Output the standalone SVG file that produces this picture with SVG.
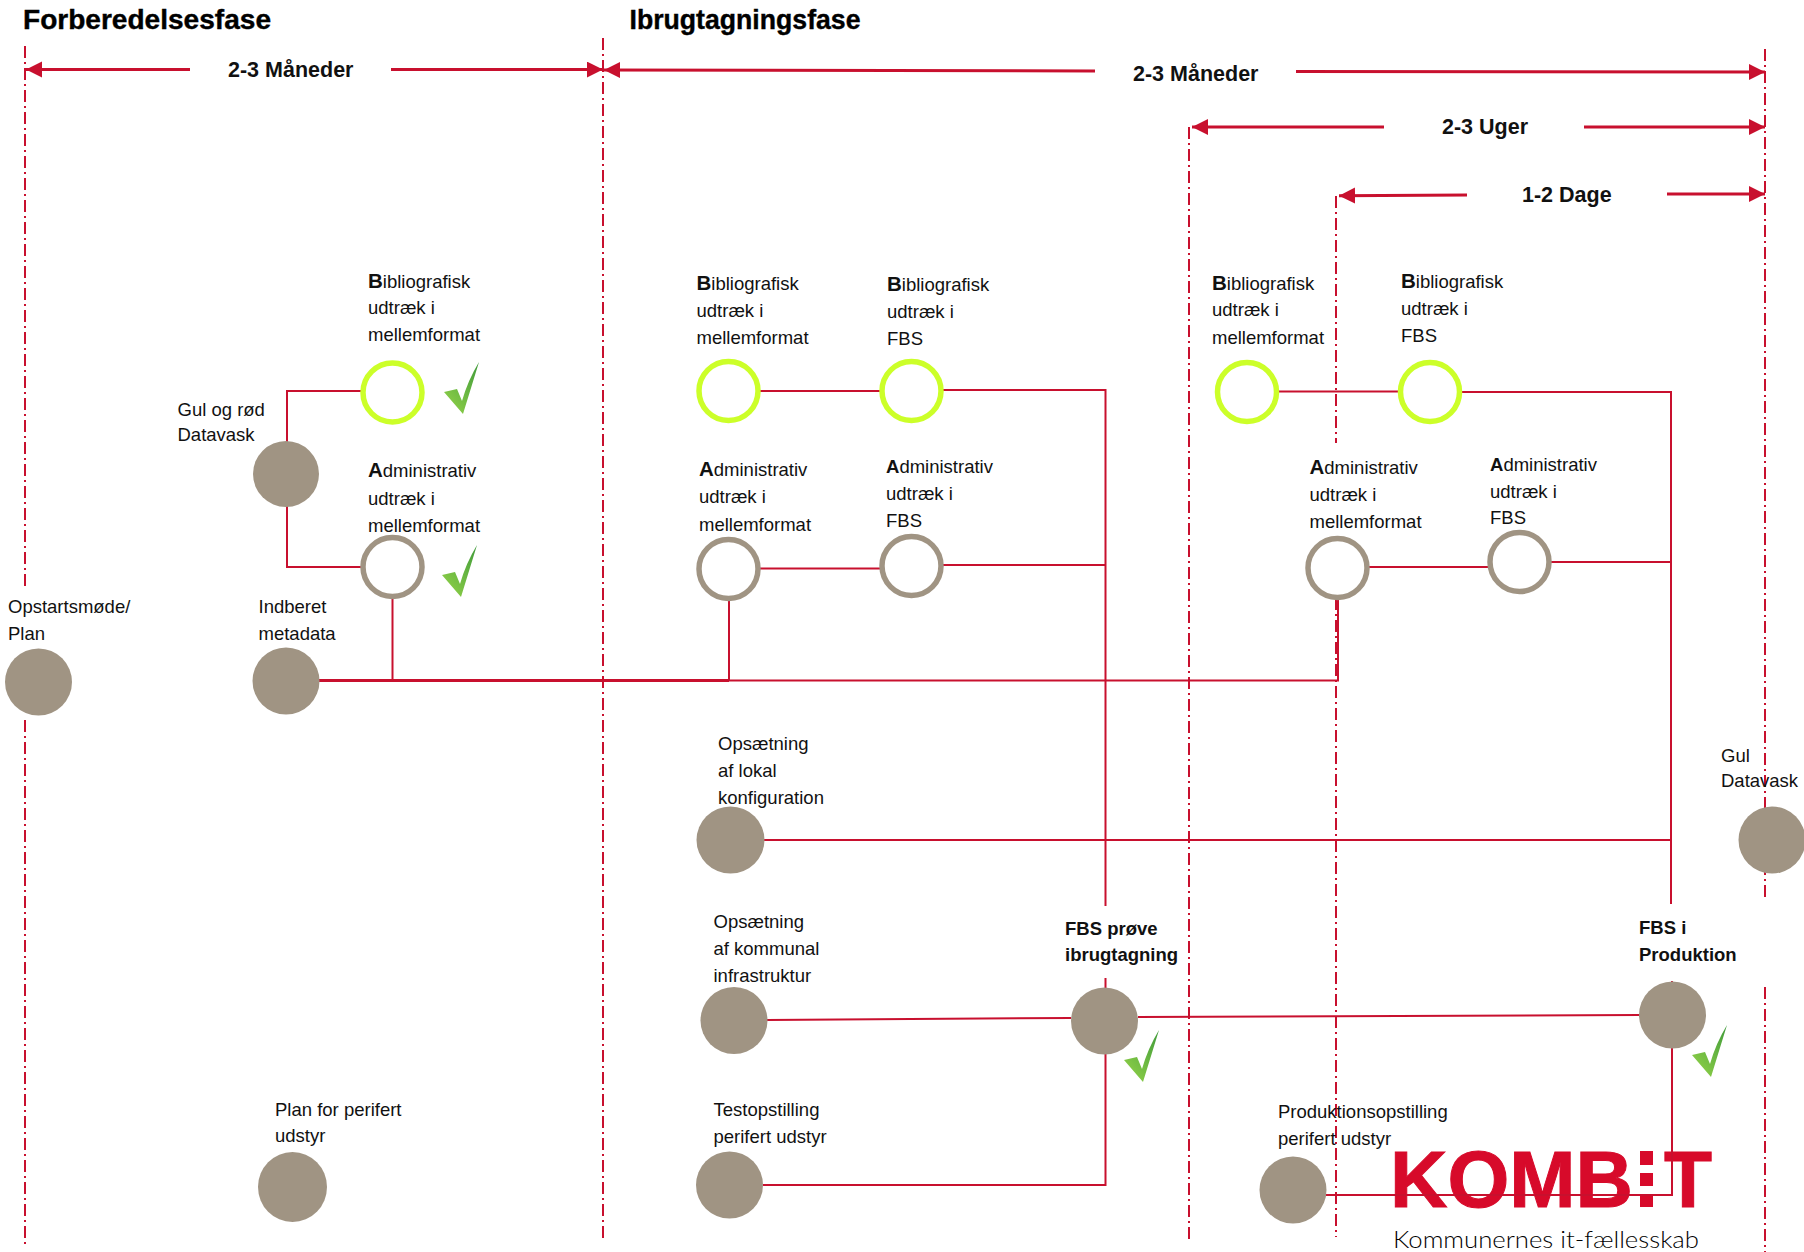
<svg xmlns="http://www.w3.org/2000/svg" xmlns:xlink="http://www.w3.org/1999/xlink" width="1804" height="1252" viewBox="0 0 1804 1252">
<style>
text{font-family:"Liberation Sans",Arial,sans-serif;font-size:18.500px;fill:#111}
.b{font-weight:700}
.lead{font-weight:700;font-size:20.500px}
.h{font-weight:700;font-size:21.500px}
.t{font-weight:700;font-size:27.500px;fill:#000;stroke:#000;stroke-width:.4}
.c{fill:none;stroke:#c8102e;stroke-width:2}
.a{fill:none;stroke:#c8102e;stroke-width:3}
.d{fill:none;stroke:#c8102e;stroke-width:2;stroke-dasharray:12 4 2 4}
.s{fill:#a09483}
.g{fill:#fff;stroke:#ccff29;stroke-width:5.500}
.r{fill:#fff;stroke:#a09483;stroke-width:5.500}
.k{fill:url(#cg)}
.l{fill:#d70a2a}
.lk{font-size:80px;font-weight:700;fill:#d70a2a;stroke:#d70a2a;stroke-width:1}
</style>
<defs>
<marker id="ah" markerUnits="userSpaceOnUse" markerWidth="18" markerHeight="18" refX="16" refY="8" orient="auto-start-reverse"><path d="M0 0L16 8L0 16Z" fill="#c8102e"/></marker>
<linearGradient id="cg" x1="1" y1="0" x2="0.2" y2="1"><stop offset="0" stop-color="#3f9a3a"/><stop offset="1" stop-color="#8fd048"/></linearGradient>
<path id="chk" class="k" d="M0 30L13 27L18 39Q24 18 35 0Q27 26 19 52Z"/>
</defs>
<g id="titles">
<text class="t" x="23" y="28.500" textLength="248" lengthAdjust="spacingAndGlyphs">Forberedelsesfase</text>
<text class="t" x="629.500" y="28.500" textLength="231" lengthAdjust="spacingAndGlyphs">Ibrugtagningsfase</text>
</g>
<g id="logo">
<text class="lk" x="1390" y="1207" textLength="243" lengthAdjust="spacingAndGlyphs">KOMB</text>
<rect class="l" x="1640" y="1151" width="13" height="14"/><rect class="l" x="1640" y="1173" width="13" height="13"/><rect class="l" x="1640" y="1195" width="13" height="12"/>
<text class="lk" x="1664" y="1207" textLength="48" lengthAdjust="spacingAndGlyphs">T</text>
<text x="1393" y="1248" textLength="306" lengthAdjust="spacingAndGlyphs" style="font-family:Lato,sans-serif;font-size:24px;font-weight:300;fill:#000">Kommunernes it-fællesskab</text>
</g>
<g id="connectors">
<path class="d" d="M25 46V590M25 720V1248"/>
<path class="d" d="M603 38V1240"/>
<path class="d" d="M1765 49V900M1765 987V1252"/>
<path class="d" d="M1189 127V1240"/>
<path class="d" d="M1336 196V443M1336 598V1237"/>
<path class="a" marker-start="url(#ah)" d="M26 69.600H190"/>
<path class="a" marker-end="url(#ah)" d="M391 69.600H603"/>
<path class="a" marker-start="url(#ah)" d="M604 70L1095 71"/>
<path class="a" marker-end="url(#ah)" d="M1296 71.500L1765 72"/>
<path class="a" marker-start="url(#ah)" d="M1192 127H1384"/>
<path class="a" marker-end="url(#ah)" d="M1584 127H1765"/>
<path class="a" marker-start="url(#ah)" d="M1339 195.700L1467 195"/>
<path class="a" marker-end="url(#ah)" d="M1667 194H1765"/>
<path class="c" d="M361 391H287V445M287 505V567H361"/>
<path class="c" d="M392.500 598V680"/>
<path class="c" style="stroke-width:3" d="M319 680.500H729"/>
<path class="c" d="M729 680.500H1338V598M729 600V680"/>
<path class="c" d="M760 391H880M943 390H1105.500V906M1105.500 978V990M760 568.500H880M943 565H1105.500M1105.500 1050V1185H763"/>
<path class="c" d="M1278 391.500H1399M1461 392H1671V904M1369 567H1488M1551 562H1671"/>
<path class="c" d="M764 840H1671"/>
<path class="c" d="M767 1020L1071 1018M1138 1017L1640 1015"/>
<path class="c" d="M1672 981V985M1672 1047V1195H1326"/>
</g>
<g id="n-forb-bib"><circle class="g" cx="392.500" cy="392.500" r="29.500"/><use href="#chk" x="444" y="362"/><text x="368" y="288"><tspan class="lead">B</tspan>ibliografisk</text><text x="368" y="314">udtræk i</text><text x="368" y="341">mellemformat</text></g>
<g id="n-forb-adm"><circle class="r" cx="392.500" cy="567" r="29.500"/><use href="#chk" x="442" y="545"/><text x="368" y="477"><tspan class="lead">A</tspan>dministrativ</text><text x="368" y="504.500">udtræk i</text><text x="368" y="531.500">mellemformat</text></g>
<g id="n-gul-roed"><circle class="s" cx="286" cy="474" r="33"/><text x="177.500" y="415.500">Gul og rød</text><text x="177.500" y="441">Datavask</text></g>
<g id="n-opstart"><circle class="s" cx="38.500" cy="682" r="33.500"/><text x="8" y="613">Opstartsmøde/</text><text x="8" y="639.500">Plan</text></g>
<g id="n-metadata"><circle class="s" cx="286" cy="681" r="33.500"/><text x="258.500" y="613">Indberet</text><text x="258.500" y="639.500">metadata</text></g>
<g id="n-ibr-bib1"><circle class="g" cx="728.500" cy="391" r="29.500"/><text x="696.500" y="290"><tspan class="lead">B</tspan>ibliografisk</text><text x="696.500" y="317">udtræk i</text><text x="696.500" y="344">mellemformat</text></g>
<g id="n-ibr-bib2"><circle class="g" cx="911.500" cy="391" r="29.500"/><text x="887" y="291"><tspan class="lead">B</tspan>ibliografisk</text><text x="887" y="318">udtræk i</text><text x="887" y="345">FBS</text></g>
<g id="n-ibr-adm1"><circle class="r" cx="728.500" cy="569" r="29.500"/><text x="699" y="475.500"><tspan class="lead">A</tspan>dministrativ</text><text x="699" y="503">udtræk i</text><text x="699" y="531">mellemformat</text></g>
<g id="n-ibr-adm2"><circle class="r" cx="911.500" cy="566" r="29.500"/><text x="886" y="473"><tspan class="b">A</tspan>dministrativ</text><text x="886" y="499.500">udtræk i</text><text x="886" y="527">FBS</text></g>
<g id="n-uger-bib1"><circle class="g" cx="1247" cy="392" r="29.500"/><text x="1212" y="290"><tspan class="lead">B</tspan>ibliografisk</text><text x="1212" y="316">udtræk i</text><text x="1212" y="344">mellemformat</text></g>
<g id="n-uger-bib2"><circle class="g" cx="1430" cy="392" r="29.500"/><text x="1401" y="288"><tspan class="lead">B</tspan>ibliografisk</text><text x="1401" y="314.500">udtræk i</text><text x="1401" y="342">FBS</text></g>
<g id="n-uger-adm1"><circle class="r" cx="1337.500" cy="568" r="29.500"/><text x="1309.500" y="474"><tspan class="lead">A</tspan>dministrativ</text><text x="1309.500" y="500.500">udtræk i</text><text x="1309.500" y="528">mellemformat</text></g>
<g id="n-uger-adm2"><circle class="r" cx="1519.500" cy="562" r="29.500"/><text x="1490" y="471"><tspan class="b">A</tspan>dministrativ</text><text x="1490" y="498">udtræk i</text><text x="1490" y="524">FBS</text></g>
<g id="n-lokal"><ellipse class="s" cx="730.500" cy="840" rx="34" ry="33.500"/><text x="718" y="750">Opsætning</text><text x="718" y="777">af lokal</text><text x="718" y="804">konfiguration</text></g>
<g id="n-gul"><circle class="s" cx="1772" cy="840" r="33.500"/><text x="1721" y="762">Gul</text><text x="1721" y="787">Datavask</text></g>
<g id="n-infra"><circle class="s" cx="734" cy="1020.500" r="33.500"/><text x="713.500" y="928">Opsætning</text><text x="713.500" y="955">af kommunal</text><text x="713.500" y="982">infrastruktur</text></g>
<g id="n-proeve"><circle class="s" cx="1104.500" cy="1021" r="33.500"/><use href="#chk" x="1124" y="1030"/><text class="b" x="1065" y="935">FBS prøve</text><text class="b" x="1065" y="961">ibrugtagning</text></g>
<g id="n-prod"><circle class="s" cx="1672.500" cy="1015" r="33.500"/><use href="#chk" x="1692" y="1025"/><text class="b" x="1639" y="934">FBS i</text><text class="b" x="1639" y="961">Produktion</text></g>
<g id="n-plan"><ellipse class="s" cx="292.500" cy="1187" rx="34.500" ry="35"/><text x="275" y="1115.500">Plan for perifert</text><text x="275" y="1142">udstyr</text></g>
<g id="n-test"><circle class="s" cx="729.500" cy="1185" r="33.500"/><text x="713.500" y="1116">Testopstilling</text><text x="713.500" y="1143">perifert udstyr</text></g>
<g id="n-prodops"><ellipse class="s" cx="1293" cy="1190" rx="33.500" ry="33.500"/><text x="1278" y="1118">Produktionsopstilling</text><text x="1278" y="1145">perifert udstyr</text></g>
<g id="durations">
<text class="h" x="228" y="77">2-3 Måneder</text>
<text class="h" x="1133" y="81">2-3 Måneder</text>
<text class="h" x="1442" y="134">2-3 Uger</text>
<text class="h" x="1522" y="202">1-2 Dage</text>
</g>
</svg>
